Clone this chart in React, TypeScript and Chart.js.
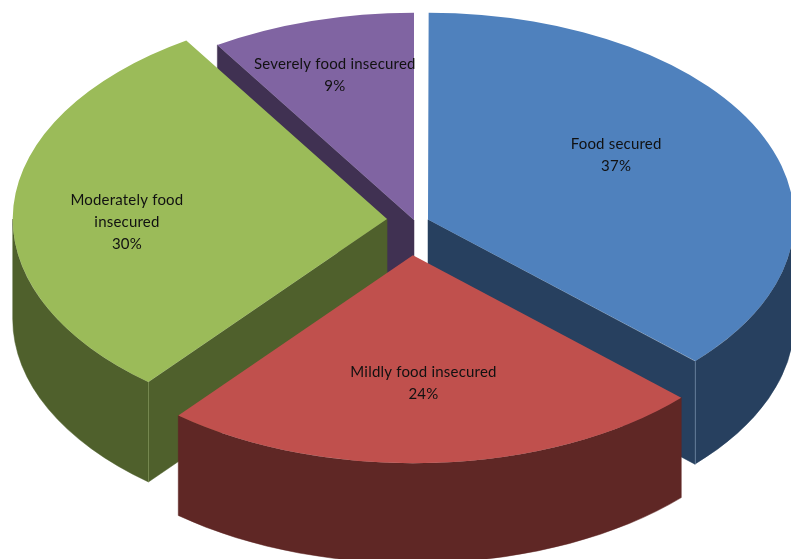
import { useEffect, useRef } from "react";
import { Chart, registerables } from "chart.js";

Chart.register(...registerables);

const categories = ["Food secured", "Mildly food insecured", "Moderately food insecured", "Severely food insecured"];
const shares = [37, 24, 30, 9];
const labelLines = [["Food secured"], ["Mildly food insecured"], ["Moderately food", "insecured"], ["Severely food insecured"]];
const topColors = ["#4F81BD", "#C0504D", "#9BBB59", "#8064A2"];
const wallColors = ["#27405F", "#5F2725", "#4F602C", "#403152"];
const seamColors = ["#5C7592", "", "#75874F", ""];
const explodeOffsets = [61, 250, 108, 0];
const sliceRadii = [362, 368, 373, 367];
const sliceShiftX = [0, -5, 0, 0];
const sliceShiftY = [3, 0, 0, 0];
const sliceDepths = [103, 100, 100, 100];
const labelNudges = [[22, -32], [-1, 13], [-74, -12], [-28, -56]];
const wallOrder = [3, 0, 2, 1];

const BASE_RADIUS = 364;
const TILT = 0.565;

// Squashes the flat pie into a tilted ellipse.
function applyTilt(ctx: CanvasRenderingContext2D, cy: number) {
  ctx.translate(0, cy);
  ctx.scale(1, TILT);
  ctx.translate(0, -cy);
}

const tiltedPie = {
  id: "tiltedPie",
  afterDatasetUpdate(chart: any) {
    chart.getDatasetMeta(0).data.forEach((arc: any, i: number) => {
      arc.outerRadius = sliceRadii[i];
      arc.x += sliceShiftX[i];
      arc.y += sliceShiftY[i] / TILT;
    });
  },
  beforeDatasetsDraw(chart: any) {
    const { ctx, chartArea } = chart;
    const arcs = chart.getDatasetMeta(0).data;
    const cy = (chartArea.top + chartArea.bottom) / 2;
    // Side walls of each slice, back to front: only the faces turned toward the viewer.
    for (const i of wallOrder) {
      const arc = arcs[i];
      const off = arc.options.offset / 4;
      const half = (arc.startAngle + arc.endAngle) / 2;
      const fix = 1 - Math.sin(Math.min(Math.PI, arc.circumference));
      const r = arc.outerRadius + off * fix;
      const px = arc.x + Math.cos(half) * off;
      const py = cy + (arc.y - cy + Math.sin(half) * off) * TILT;
      const depth = sliceDepths[i];
      const rimX = (a: number) => px + Math.cos(a) * r;
      const rimY = (a: number) => py + Math.sin(a) * r * TILT;

      ctx.save();
      ctx.fillStyle = wallColors[i];
      ctx.strokeStyle = wallColors[i];
      ctx.lineWidth = 0.5;
      ctx.lineJoin = "round";

      // Rim band: the part of the arc on the near half of the ellipse.
      const from = Math.max(arc.startAngle, 0);
      const to = Math.min(arc.endAngle, Math.PI);
      if (to > from) {
        ctx.beginPath();
        ctx.ellipse(px, py, r, r * TILT, 0, from, to);
        ctx.ellipse(px, py + depth, r, r * TILT, 0, to, from, true);
        ctx.closePath();
        ctx.fill();
        ctx.stroke();
      }

      // Radial faces whose outward normal points down the screen.
      const faces = [
        { angle: arc.startAngle, normal: arc.startAngle - Math.PI / 2 },
        { angle: arc.endAngle, normal: arc.endAngle + Math.PI / 2 },
      ];
      for (const { angle, normal } of faces) {
        if (Math.sin(normal) <= 1e-6) continue;
        ctx.beginPath();
        ctx.moveTo(px, py);
        ctx.lineTo(rimX(angle), rimY(angle));
        ctx.lineTo(rimX(angle), rimY(angle) + depth);
        ctx.lineTo(px, py + depth);
        ctx.closePath();
        ctx.fill();
        ctx.stroke();
      }

      // Thin highlight where the rim meets the radial face.
      if (seamColors[i]) {
        const edge = i === 0 ? arc.endAngle : arc.startAngle;
        const x = Math.round(rimX(edge)) + 0.5;
        ctx.strokeStyle = seamColors[i];
        ctx.lineWidth = 1;
        ctx.beginPath();
        ctx.moveTo(x, rimY(edge));
        ctx.lineTo(x, rimY(edge) + depth);
        ctx.stroke();
      }
      ctx.restore();
    }
    ctx.save();
    applyTilt(ctx, cy);
  },
  afterDatasetsDraw(chart: any) {
    const { ctx, chartArea } = chart;
    ctx.restore();
    const arcs = chart.getDatasetMeta(0).data;
    const cy = (chartArea.top + chartArea.bottom) / 2;
    ctx.save();
    ctx.fillStyle = "#111111";
    ctx.font = "15px Lato";
    ctx.textAlign = "center";
    ctx.textBaseline = "middle";
    (ctx as any).letterSpacing = "0.2px";
    arcs.forEach((arc: any, i: number) => {
      const half = (arc.startAngle + arc.endAngle) / 2;
      const off = arc.options.offset / 4;
      const mid = arc.outerRadius / 2;
      const px = arc.x + Math.cos(half) * (off + mid) + labelNudges[i][0];
      const py = cy + Math.sin(half) * (off + mid) * TILT + labelNudges[i][1];
      const lines = [...labelLines[i], `${shares[i]}%`];
      lines.forEach((line, k) => ctx.fillText(line, px, py + k * 22));
    });
    ctx.restore();
  },
};

export default function App() {
  const canvasRef = useRef<HTMLCanvasElement>(null);

  useEffect(() => {
    const chart = new Chart(canvasRef.current as HTMLCanvasElement, {
      type: "pie",
      data: {
        labels: categories,
        datasets: [
          {
            data: shares,
            backgroundColor: topColors,
            borderWidth: 0,
            offset: explodeOffsets,
            clip: false,
          } as any,
        ],
      },
      options: {
        responsive: false,
        animation: false,
        radius: BASE_RADIUS,
        layout: { padding: { left: 37, top: 0, right: 0, bottom: 119 } },
        plugins: { legend: { display: false }, tooltip: { enabled: false }, title: { display: false } },
      } as any,
      plugins: [tiltedPie],
    });
    return () => chart.destroy();
  }, []);

  return (
    <div style={{ position: "absolute", left: 0, top: 0, width: 791, height: 559, background: "#fff", overflow: "hidden" }}>
      <canvas ref={canvasRef} width={791} height={559} style={{ display: "block" }} />
    </div>
  );
}
